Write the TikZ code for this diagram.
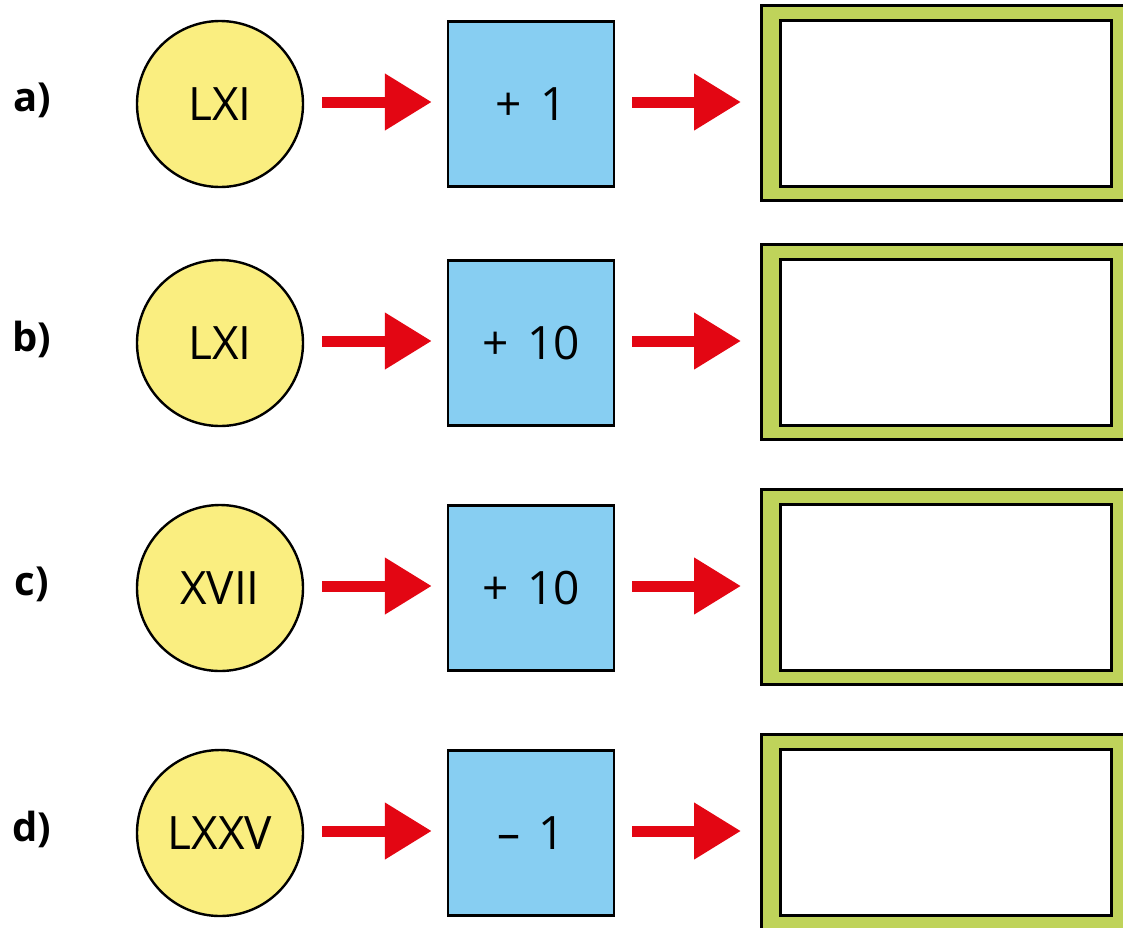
\documentclass[tikz,border=0pt]{standalone}
\usepackage{fontspec}
\setmainfont{Open Sans}
\usetikzlibrary{arrows.meta}
\definecolor{cyel}{RGB}{250,238,128}
\definecolor{cblue}{RGB}{135,206,242}
\definecolor{cgreen}{RGB}{191,211,90}
\definecolor{cred}{RGB}{227,6,19}
\tikzset{
  numcirc/.style={circle, draw=black, line width=2.4pt, fill=cyel, minimum size=166pt, inner sep=0pt, font=\fontsize{46}{50}\selectfont},
  opbox/.style={rectangle, draw=black, line width=2.4pt, fill=cblue, minimum width=166pt, minimum height=165pt, inner sep=0pt, font=\fontsize{46}{50}\selectfont},
  ansbox/.style={rectangle, draw=black, line width=2.6pt, fill=cgreen, minimum width=372pt, minimum height=195pt, inner sep=0pt, anchor=west},
  ansinner/.style={rectangle, draw=black, line width=2.6pt, fill=white, minimum width=331pt, minimum height=166pt, inner sep=0pt},
  rowlab/.style={font=\fontsize{40}{44}\selectfont\bfseries},
  flow/.style={draw=cred, line width=11pt, -{Triangle[length=47pt,width=54pt]}, color=cred},
}
\newcommand{\opgap}{\hspace{0.4em}}
\begin{document}
\begin{tikzpicture}[x=1pt,y=-1pt]
\useasboundingbox (0,0) rectangle (1123,927);
\foreach \n/\lab/\num/\op/\yy in {a/a)/LXI/+\opgap 1/104, b/b)/LXI/+\opgap 10/343, c/c)/XVII/+\opgap 10/588, d/d)/LXXV/\textendash\opgap 1/833}{
  \node[rowlab] (lab\n) at (32,\yy-4) {\lab};
  \node[numcirc] (c\n) at (220,\yy) {\num};
  \node[opbox] (o\n) at (531,\yy) {\op};
  \node[ansbox] (g\n) at (760,\yy-1) {};
  \node[ansinner] (w\n) at (946,\yy-0.5) {};
  \coordinate (m\n) at (0,\yy-2);
  \draw[flow, shorten <=18pt, shorten >=15pt] (c\n.east |- m\n) -- (o\n.west |- m\n);
  \draw[flow, shorten <=17pt, shorten >=19pt] (o\n.east |- m\n) -- (g\n.west |- m\n);
}
\end{tikzpicture}
\end{document}
